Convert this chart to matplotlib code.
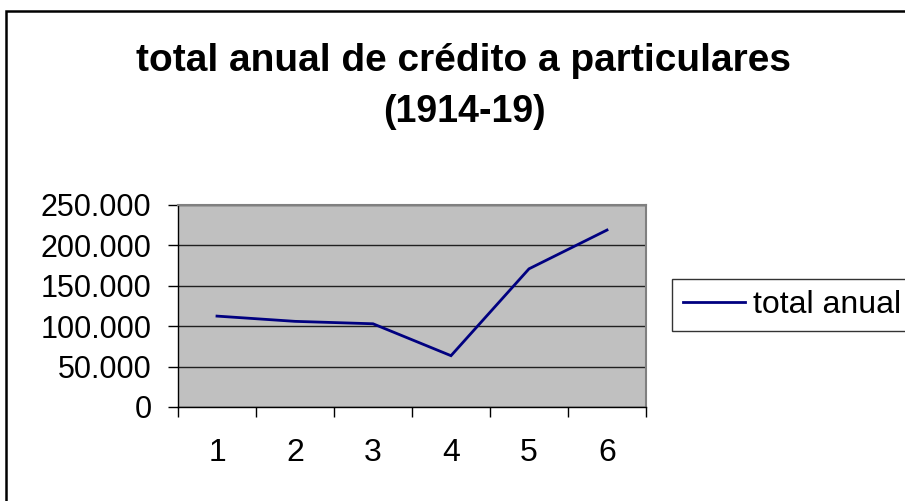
import matplotlib
matplotlib.use("Agg")
import matplotlib.pyplot as plt
from matplotlib.patches import Rectangle

categories = ["1", "2", "3", "4", "5", "6"]
total_anual = [112500, 106000, 103000, 63500, 171000, 219000]
y_ticks = [0, 50000, 100000, 150000, 200000, 250000]
y_tick_labels = ["0", "50.000", "100.000", "150.000", "200.000", "250.000"]
title_line1 = "total anual de crédito a particulares"
title_line2 = "(1914-19)"

plt.rcParams['font.family'] = ['Liberation Sans', 'DejaVu Sans']

W, H = 905, 501
fig = plt.figure(figsize=(W / 100, H / 100), dpi=100)
fig.patch.set_facecolor('white')

# outer chart border (cropped at right and bottom)
fig.patches.append(Rectangle((6 / W, -0.1), 1.2, 1 - 11 / H + 0.1,
                             transform=fig.transFigure, fill=False,
                             edgecolor='black', linewidth=1.8, zorder=0))

ax = fig.add_axes([178 / W, 1 - 407 / H, (646 - 178) / W, (407 - 205) / H])
ax.set_facecolor('#C0C0C0')

x = list(range(len(categories)))
ax.plot(x, total_anual, color='#000080', linewidth=2, label='total anual',
        solid_joinstyle='miter')

ax.set_xlim(-0.5, len(categories) - 0.5)
ax.set_ylim(0, 250000)
ax.set_yticks(y_ticks)
ax.set_yticklabels(y_tick_labels)
ax.set_xticks([i - 0.5 for i in range(len(categories) + 1)], minor=False)
ax.set_xticklabels([])
ax.set_xticks(x, minor=True)
ax.set_xticklabels(categories, minor=True)
ax.tick_params(axis='x', which='major', length=7, width=1, direction='out', color='black')
ax.tick_params(axis='x', which='minor', length=0, pad=22, labelsize=23)
ax.tick_params(axis='y', length=7.5, width=1, direction='out', pad=11.5, labelsize=22, color='black')

ax.grid(axis='y', color='#202020', linewidth=1)
ax.set_axisbelow(True)
for s in ['left', 'bottom']:
    ax.spines[s].set_color('black')
    ax.spines[s].set_linewidth(1)
for s in ['top', 'right']:
    ax.spines[s].set_color('#808080')
    ax.spines[s].set_linewidth(1.5)

fig.text(463 / W, 1 - 71 / H, title_line1, ha='center', va='baseline',
         fontsize=28, fontweight='bold')
fig.text(464 / W, 1 - 122.5 / H, title_line2, ha='center', va='baseline',
         fontsize=27, fontweight='bold')

leg = ax.legend(loc='upper left', bbox_to_anchor=(672 / W, 1 - 279 / H),
                bbox_transform=fig.transFigure, fontsize=23, frameon=True,
                fancybox=False, borderpad=0.35, handlelength=1.95,
                handletextpad=0.22, borderaxespad=0)
leg.get_frame().set_edgecolor('black')
leg.get_frame().set_linewidth(1)

fig.savefig('out.png', dpi=100)
